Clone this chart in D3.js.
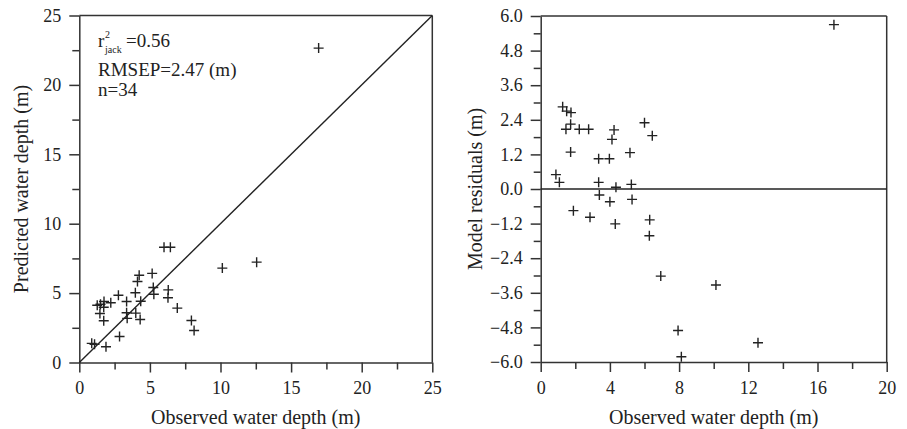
<!DOCTYPE html>
<html>
<head>
<meta charset="utf-8">
<script src="https://cdn.jsdelivr.net/npm/d3@7"></script>
<style>
body { margin: 0; background: #fff; }
svg text { font-family: "Liberation Serif", "Times New Roman", serif; fill: #222; }
.domain { stroke: #333; stroke-width: 1.5; }
.tick line { stroke: #333; stroke-width: 1.5; }
</style>
</head>
<body>
<svg width="907" height="429"></svg>
<script>
// values
var observed  = [0.88, 1.08, 1.27, 1.50, 1.75, 1.46, 1.73, 1.73, 2.23, 2.77, 1.89, 2.85,
                 3.35, 3.35, 3.39, 3.97, 4.00, 4.12, 4.24, 4.35, 4.31, 5.16, 5.24, 5.28,
                 6.00, 6.45, 6.30, 6.28, 6.94, 7.94, 8.13, 10.13, 12.56, 16.95];
var predicted = [1.38, 1.31, 4.12, 4.20, 4.40, 3.53, 3.98, 3.01, 4.30, 4.84, 1.14, 1.87,
                 4.40, 3.58, 3.18, 5.02, 3.56, 5.84, 6.29, 4.41, 3.10, 6.42, 5.40, 4.92,
                 8.30, 8.30, 5.23, 4.66, 3.92, 3.03, 2.31, 6.80, 7.23, 22.65];
var residual  = [0.50, 0.23, 2.85, 2.70, 2.65, 2.07, 2.25, 1.28, 2.07, 2.07, -0.75, -0.98,
                 1.05, 0.23, -0.21, 1.05, -0.44, 1.72, 2.05, 0.06, -1.21, 1.26, 0.16, -0.36,
                 2.30, 1.85, -1.07, -1.62, -3.02, -4.91, -5.82, -3.33, -5.33, 5.70];

var leftTicks = [0, 5, 10, 15, 20, 25];
var leftMinor = [2.5, 7.5, 12.5, 17.5, 22.5];
var resXTicks = [0, 4, 8, 12, 16, 20];
var resXMinor = [2, 6, 10, 14, 18];
var resYTicks = [-6, -4.8, -3.6, -2.4, -1.2, 0, 1.2, 2.4, 3.6, 4.8, 6];
var resYMinor = [-5.4, -4.2, -3, -1.8, -0.6, 0.6, 1.8, 3, 4.2, 5.4];

var svg = d3.select("svg");

function drawPanel(opt) {
    var g = svg.append("g");
    var x = opt.x, y = opt.y;
    var x0 = x.range()[0], x1 = x.range()[1];
    var y0 = y.range()[0], y1 = y.range()[1];

    // minor ticks first
    g.append("g").attr("transform", "translate(0," + y0 + ")")
        .call(d3.axisBottom(x).tickValues(opt.xMinor).tickSize(7).tickFormat(""))
        .select(".domain").remove();
    g.append("g").attr("transform", "translate(" + x0 + ",0)")
        .call(d3.axisLeft(y).tickValues(opt.yMinor).tickSize(7).tickFormat(""))
        .select(".domain").remove();

    g.append("g").attr("transform", "translate(0," + y0 + ")")
        .call(d3.axisBottom(x).tickValues(opt.xTicks).tickSize(10).tickSizeOuter(0)
            .tickPadding(9).tickFormat(opt.xFmt));
    g.append("g").attr("transform", "translate(" + x0 + ",0)")
        .call(d3.axisLeft(y).tickValues(opt.yTicks).tickSize(10).tickSizeOuter(0)
            .tickPadding(8).tickFormat(opt.yFmt));
    g.selectAll(".tick text").style("font-size", "18px")
        .style("font-family", "'Liberation Serif', serif").attr("fill", "#222");

    // frame top and right
    g.append("line").attr("x1", x0).attr("x2", x1).attr("y1", y1).attr("y2", y1)
        .attr("stroke", "#333").attr("stroke-width", 1.5);
    g.append("line").attr("x1", x1).attr("x2", x1).attr("y1", y1).attr("y2", y0)
        .attr("stroke", "#333").attr("stroke-width", 1.5);

    // titles
    g.append("text").attr("x", (x0 + x1) / 2).attr("y", 424)
        .attr("text-anchor", "middle").style("font-size", "20px").text(opt.xTitle);
    g.append("text").attr("transform", "translate(" + opt.yTitleX + "," + (y0 + y1) / 2 + ") rotate(-90)")
        .attr("text-anchor", "middle").style("font-size", "20px").text(opt.yTitle);

    // crosses
    var s = 5;
    g.append("g").selectAll("path").data(opt.data).join("path")
        .attr("d", function (d) {
            var px = x(d[0]), py = y(d[1]);
            return "M" + (px - s) + "," + py + "H" + (px + s) + "M" + px + "," + (py - s) + "V" + (py + s);
        })
        .attr("stroke", "#222").attr("stroke-width", 1.4).attr("fill", "none");
    return g;
}

// left panel
var xL = d3.scaleLinear().domain([0, 25]).range([79.3, 432.3]);
var yL = d3.scaleLinear().domain([0, 25]).range([362.5, 15.5]);
var gL = drawPanel({
    x: xL, y: yL,
    xTicks: leftTicks, xMinor: leftMinor, yTicks: leftTicks, yMinor: leftMinor,
    xFmt: d3.format("d"), yFmt: d3.format("d"),
    xTitle: "Observed water depth (m)", yTitle: "Predicted water depth (m)", yTitleX: 28,
    data: observed.map(function (o, i) { return [o, predicted[i]]; })
});
gL.append("line").attr("x1", xL(0)).attr("y1", yL(0)).attr("x2", xL(25)).attr("y2", yL(25))
    .attr("stroke", "#222").attr("stroke-width", 1.4);

var note = gL.append("text").attr("x", 98).attr("y", 47).style("font-size", "19px");
note.append("tspan").text("r");
note.append("tspan").attr("x", 105).attr("y", 38).style("font-size", "10px").text("2");
note.append("tspan").attr("x", 105).attr("y", 53).style("font-size", "10px").text("jack");
note.append("tspan").attr("x", 126).attr("y", 47).text("=0.56");
gL.append("text").attr("x", 98).attr("y", 76).style("font-size", "19px").text("RMSEP=2.47 (m)");
gL.append("text").attr("x", 98).attr("y", 96).style("font-size", "19px").text("n=34");

// right panel
var xR = d3.scaleLinear().domain([0, 20]).range([540.7, 886.7]);
var yR = d3.scaleLinear().domain([-6, 6]).range([362, 16]);
var gR = drawPanel({
    x: xR, y: yR,
    xTicks: resXTicks, xMinor: resXMinor, yTicks: resYTicks, yMinor: resYMinor,
    xFmt: d3.format("d"), yFmt: d3.format(".1f"),
    xTitle: "Observed water depth (m)", yTitle: "Model residuals (m)", yTitleX: 482,
    data: observed.map(function (o, i) { return [o, residual[i]]; })
});
gR.append("line").attr("x1", xR(0)).attr("x2", xR(20)).attr("y1", yR(0)).attr("y2", yR(0))
    .attr("stroke", "#222").attr("stroke-width", 1.4);
</script>
</body>
</html>
